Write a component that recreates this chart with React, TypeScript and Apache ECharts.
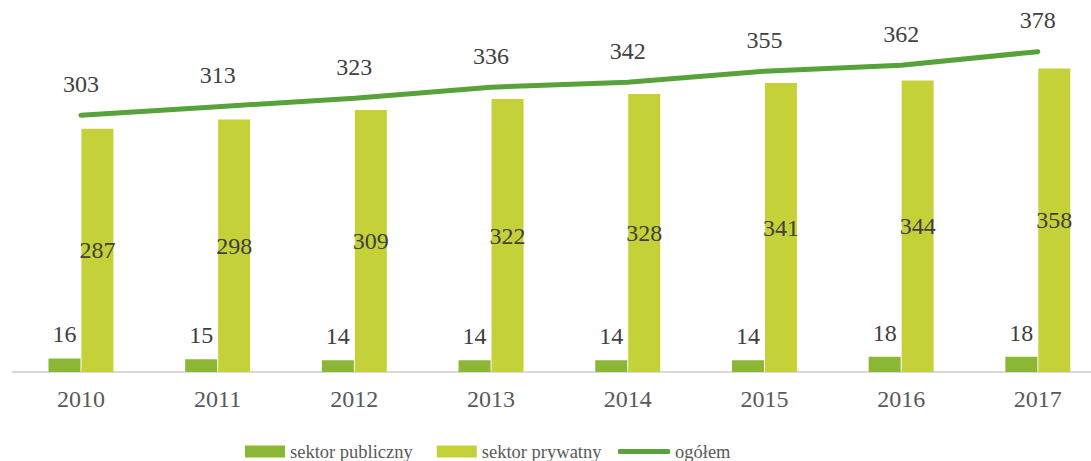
import React, { useEffect, useRef } from "react";
import * as echarts from "echarts";

const years = ["2010", "2011", "2012", "2013", "2014", "2015", "2016", "2017"];
const publicSector = [16, 15, 14, 14, 14, 14, 18, 18];
const privateSector = [287, 298, 309, 322, 328, 341, 344, 358];
const total = [303, 313, 323, 336, 342, 355, 362, 378];

const FONT = "Times New Roman, Liberation Serif, serif";
const C_PUB = "#8BB735";
const C_PRIV = "#C5D139";
const C_LINE = "#58A23C";

export default function App() {
  const ref = useRef<HTMLDivElement>(null);
  useEffect(() => {
    if (!ref.current) return;
    const chart = echarts.init(ref.current, undefined, { renderer: "svg" });
    chart.setOption({
      animation: false,
      backgroundColor: "#ffffff",
      textStyle: { fontFamily: FONT },
      grid: { left: 12.6, right: 3.8, top: 33, bottom: 89 },
      xAxis: {
        type: "category",
        data: years,
        axisLine: { lineStyle: { color: "#d9d9d9", width: 2 } },
        axisTick: { show: false },
        axisLabel: { color: "#595959", fontSize: 24, fontFamily: FONT, margin: 15 },
      },
      yAxis: {
        type: "value",
        min: 0,
        max: 400,
        show: false,
        splitLine: { show: false },
      },
      legend: [
        {
          data: ["sektor publiczny", "sektor prywatny"],
          left: 240,
          top: 437,
          itemWidth: 40,
          itemHeight: 12,
          itemGap: 24,
          itemTextGap: 4,
          icon: "rect",
          textStyle: { color: "#595959", fontSize: 18.5, fontFamily: FONT },
        },
        {
          data: [{ name: "ogółem", icon: "roundRect" }],
          left: 613,
          top: 437,
          itemWidth: 52,
          itemHeight: 5,
          itemTextGap: 2,
          textStyle: { color: "#595959", fontSize: 18.5, fontFamily: FONT },
        },
      ],
      series: [
        {
          name: "sektor publiczny",
          type: "bar",
          data: publicSector,
          barWidth: 32,
          barGap: "3%",
          itemStyle: { color: C_PUB },
          label: {
            show: true,
            position: "top",
            distance: 12,
            color: "#404040",
            fontSize: 24,
            fontFamily: FONT,
          },
        },
        {
          name: "sektor prywatny",
          type: "bar",
          data: privateSector,
          barWidth: 32,
          itemStyle: { color: C_PRIV },
          label: {
            show: true,
            position: "inside",
            color: "#404040",
            fontSize: 24,
            fontFamily: FONT,
          },
        },
        {
          name: "ogółem",
          type: "line",
          data: total,
          symbol: "circle",
          symbolSize: 1,
          showSymbol: true,
          lineStyle: { color: C_LINE, width: 5, cap: "round" },
          itemStyle: { color: C_LINE },
          label: {
            show: true,
            position: "top",
            distance: 19,
            color: "#404040",
            fontSize: 24,
            fontFamily: FONT,
          },
        },
      ],
    });
    return () => chart.dispose();
  }, []);
  return (
    <div
      ref={ref}
      style={{ position: "fixed", left: 0, top: 0, width: 1110, height: 461 }}
    />
  );
}
